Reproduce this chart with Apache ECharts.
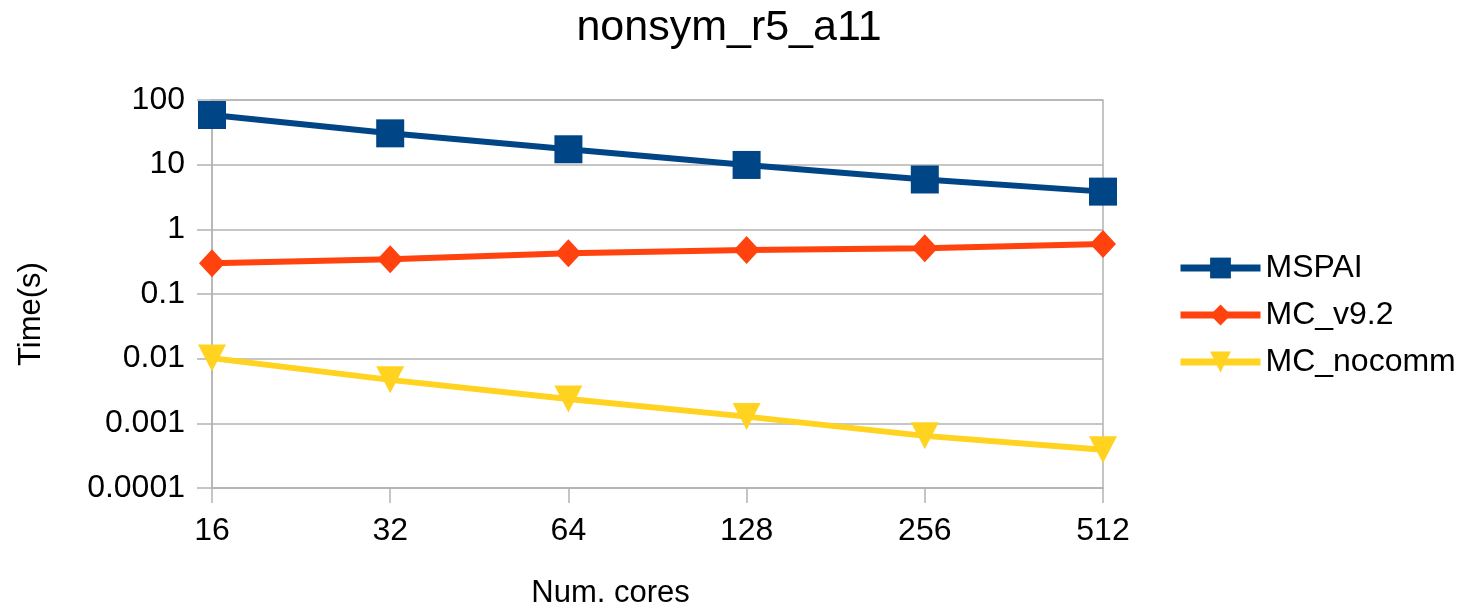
<!DOCTYPE html>
<html>
<head>
<meta charset="utf-8">
<script src="https://cdn.jsdelivr.net/npm/echarts@6/dist/echarts.min.js"></script>
<style>
html,body{margin:0;padding:0;background:#fff;}
#chart{width:1466px;height:608px;}
</style>
</head>
<body>
<div id="chart"></div>
<script>
const titleText = 'nonsym_r5_a11';
const xAxisName = 'Num. cores';
const yAxisName = 'Time(s)';
const cores = ['16', '32', '64', '128', '256', '512'];
const yTickLabels = ['0.0001', '0.001', '0.01', '0.1', '1', '10', '100'];
const seriesNames = ['MSPAI', 'MC_v9.2', 'MC_nocomm'];
const mspai = [58.6, 30.5, 17.3, 9.9, 5.9, 3.83];
const mcV92 = [0.30, 0.345, 0.427, 0.48, 0.51, 0.594];
const mcNocomm = [0.0102, 0.0047, 0.00237, 0.00127, 0.00064, 0.00039];

const font = '"Liberation Sans", Arial, sans-serif';
const chart = echarts.init(document.getElementById('chart'));
chart.setOption({
  animation: false,
  backgroundColor: '#ffffff',
  title: {
    text: titleText,
    left: 724,
    textAlign: 'center',
    top: 2,
    textStyle: { fontFamily: font, fontSize: 43, fontWeight: 'normal', color: '#000' }
  },
  legend: {
    orient: 'vertical',
    left: 1172,
    top: 247,
    itemWidth: 80,
    itemHeight: 26,
    itemGap: 15,
    lineStyle: { width: 7 },
    textStyle: { fontFamily: font, fontSize: 32, color: '#000', lineHeight: 32 },
    data: seriesNames
  },
  grid: {
    left: 212, right: 363, top: 100, bottom: 120,
    show: true, borderColor: '#b3b3b3', borderWidth: 1.5,
    containLabel: false, outerBoundsMode: 'none'
  },
  xAxis: {
    type: 'category',
    data: cores,
    boundaryGap: false,
    name: xAxisName,
    nameLocation: 'middle',
    nameGap: 90,
    nameTextStyle: { fontFamily: font, fontSize: 31, color: '#000', padding: [0, 94, 0, 0] },
    axisLine: { lineStyle: { color: '#b3b3b3', width: 1.5 } },
    axisTick: { show: true, length: 15, inside: false, alignWithLabel: true, lineStyle: { color: '#b3b3b3', width: 1.5 } },
    axisLabel: { fontFamily: font, fontSize: 32, color: '#000', margin: 27 },
    splitLine: { show: false }
  },
  yAxis: {
    type: 'log',
    logBase: 10,
    min: 0.0001,
    max: 100,
    name: yAxisName,
    nameLocation: 'middle',
    nameGap: 165,
    nameTextStyle: { fontFamily: font, fontSize: 31, color: '#000', padding: [0, 40, 0, 0] },
    axisLine: { show: true, lineStyle: { color: '#b3b3b3', width: 1.5 } },
    axisTick: { show: true, length: 15, lineStyle: { color: '#b3b3b3', width: 1.5 } },
    axisLabel: {
      fontFamily: font, fontSize: 32, color: '#000', margin: 27,
      formatter: function (v) {
        const idx = Math.round(Math.log10(v)) + 4;
        return yTickLabels[idx] !== undefined ? yTickLabels[idx] : '';
      }
    },
    splitLine: { show: true, lineStyle: { color: '#b3b3b3', width: 1.5 } }
  },
  series: [
    {
      name: seriesNames[0], type: 'line', data: mspai,
      symbol: 'rect', symbolSize: 28,
      itemStyle: { color: '#004586' },
      lineStyle: { color: '#004586', width: 6 }
    },
    {
      name: seriesNames[1], type: 'line', data: mcV92,
      symbol: 'diamond', symbolSize: [26, 28],
      itemStyle: { color: '#ff420e' },
      lineStyle: { color: '#ff420e', width: 6 }
    },
    {
      name: seriesNames[2], type: 'line', data: mcNocomm,
      symbol: 'triangle', symbolRotate: 180, symbolSize: [28, 27],
      itemStyle: { color: '#ffd320' },
      lineStyle: { color: '#ffd320', width: 6 }
    }
  ]
});
</script>
</body>
</html>
